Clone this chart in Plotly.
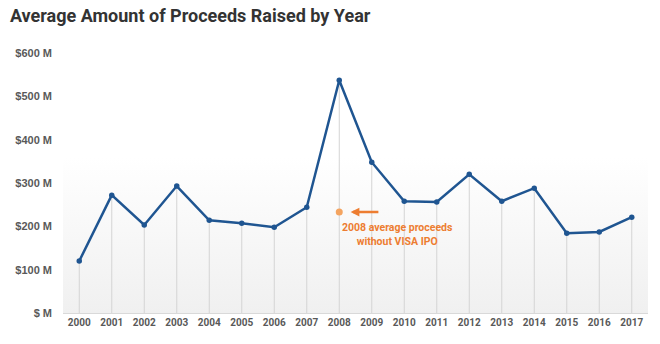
import plotly.graph_objects as go

years = list(range(2000, 2018))
avg_proceeds = [120, 272, 203, 293, 214, 207, 198, 244, 537, 348,
                258, 256, 320, 258, 288, 184, 187, 221]
y_ticks = [0, 100, 200, 300, 400, 500, 600]
y_tick_text = ["$ M", "$100 M", "$200 M", "$300 M", "$400 M", "$500 M", "$600 M"]
visa_free_2008 = 233
note_text = "2008 average proceeds<br>without VISA IPO"

CONDENSED = "Roboto, Liberation Sans, sans-serif"
BLUE = "#1f5591"
ORANGE = "#ed7d31"
GREY_TEXT = "#595959"

fig = go.Figure()

# soft vertical gradient behind the plot area
fig.add_trace(go.Scatter(
    x=[years[0] - 0.5, years[-1] + 0.5, years[-1] + 0.5, years[0] - 0.5, years[0] - 0.5],
    y=[0, 0, y_ticks[-1], y_ticks[-1], 0],
    fill="toself",
    mode="none",
    fillgradient=dict(type="vertical",
                      colorscale=[[0, "#f0f0f0"], [0.6, "#ffffff"], [1, "#ffffff"]]),
    hoverinfo="skip", showlegend=False,
))

# thin drop lines from each point to the baseline
fig.add_trace(go.Scatter(
    x=years, y=avg_proceeds, mode="markers",
    marker=dict(size=1, color="rgba(0,0,0,0)"),
    error_y=dict(type="data", symmetric=False,
                 array=[0] * len(avg_proceeds), arrayminus=avg_proceeds,
                 color="#d4d4d4", thickness=1, width=0),
    hoverinfo="skip", showlegend=False,
))

fig.add_trace(go.Scatter(
    x=years, y=avg_proceeds, mode="lines+markers",
    line=dict(color=BLUE, width=2.5),
    marker=dict(color=BLUE, size=5.5),
    showlegend=False,
))

# 2008 value excluding the VISA offering
fig.add_trace(go.Scatter(
    x=[2008], y=[visa_free_2008], mode="markers",
    marker=dict(color="#f4a460", size=7),
    showlegend=False,
))

fig.add_annotation(
    x=2008.35, y=visa_free_2008, ax=2009.25, ay=visa_free_2008,
    xref="x", yref="y", axref="x", ayref="y",
    text="", showarrow=True, arrowhead=2, arrowsize=0.7,
    arrowwidth=2.5, arrowcolor=ORANGE,
)
fig.add_annotation(
    x=2009.78, y=181, xref="x", yref="y", text=note_text,
    showarrow=False, align="center",
    font=dict(family=CONDENSED, size=10.5, color=ORANGE, weight="bold"),
)

fig.update_layout(
    width=660, height=344,
    margin=dict(l=63, r=12, t=53, b=31),
    paper_bgcolor="white", plot_bgcolor="white",
    title=dict(text="Average Amount of Proceeds Raised by Year",
               x=0.015, xanchor="left", y=0.955, yanchor="middle",
               font=dict(family=CONDENSED, size=18, color="#333333", weight="bold")),
    xaxis=dict(range=[years[0] - 0.5, years[-1] + 0.5], tickmode="array",
               tickvals=years, ticktext=[str(y) for y in years],
               showgrid=False, zeroline=False, showline=True,
               linecolor="#d9d9d9", linewidth=1, ticks="",
               tickfont=dict(family=CONDENSED, size=10, color=GREY_TEXT, weight="bold")),
    yaxis=dict(range=[0, 600], tickmode="array", tickvals=y_ticks,
               ticktext=y_tick_text, showgrid=False, zeroline=False,
               showline=False, ticks="", ticklabelstandoff=10,
               tickfont=dict(family="Liberation Sans, Arial, sans-serif", size=11,
                             color=GREY_TEXT, weight="bold")),
)

fig.write_html("out.html")
